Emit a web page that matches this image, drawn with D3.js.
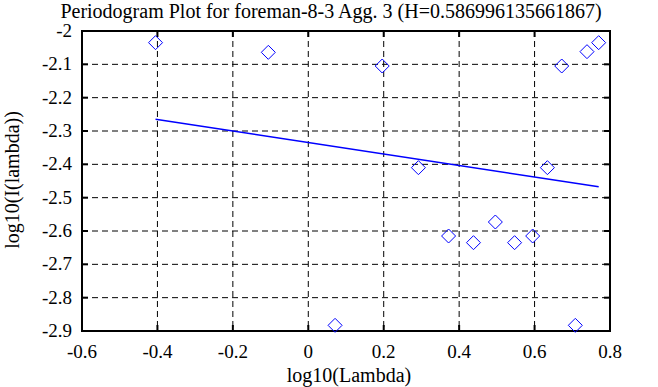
<!DOCTYPE html>
<html lang="en">
<head>
    <meta charset="UTF-8">
    <title>Periodogram Plot</title>
    <script src="https://d3js.org/d3.v7.min.js"></script>
    <style>
        body { margin: 0; background: #fff; }
        text { font-family: "Liberation Serif", "DejaVu Serif", serif; fill: #000; }
    </style>
</head>
<body>
    <svg width="658" height="387"></svg>

    <script>
        // data
        var logLambda = [-0.405, -0.106, 0.071, 0.196, 0.292, 0.372, 0.438, 0.496, 0.547, 0.595, 0.634, 0.672, 0.708, 0.739, 0.770];
        var logI      = [-2.035, -2.064, -2.883, -2.105, -2.41, -2.615, -2.635, -2.573, -2.635, -2.615, -2.41, -2.105, -2.883, -2.062, -2.035];
        var fitX = [-0.405, 0.770];
        var fitY = [-2.265, -2.467];
        var xTicks = [-0.6, -0.4, -0.2, 0, 0.2, 0.4, 0.6, 0.8];
        var yTicks = [-2, -2.1, -2.2, -2.3, -2.4, -2.5, -2.6, -2.7, -2.8, -2.9];

        var svg = d3.select("svg");
        var pL = 82, pR = 610, pT = 31, pB = 331;

        var x = d3.scaleLinear().domain([-0.6, 0.8]).range([pL, pR]);
        var y = d3.scaleLinear().domain([-2, -2.9]).range([pT, pB]);

        // grid
        svg.append("g").selectAll("line").data(xTicks.slice(1, -1)).enter().append("line")
            .attr("x1", d => x(d)).attr("x2", d => x(d))
            .attr("y1", pT).attr("y2", pB)
            .attr("stroke", "#000").attr("stroke-dasharray", "6,4");
        svg.append("g").selectAll("line").data(yTicks.slice(1, -1)).enter().append("line")
            .attr("y1", d => y(d)).attr("y2", d => y(d))
            .attr("x1", pL).attr("x2", pR)
            .attr("stroke", "#000").attr("stroke-dasharray", "6,4");

        // inward ticks on all four sides
        var tk = 6;
        var ticks = svg.append("g").attr("stroke", "#000").attr("stroke-width", 2);
        xTicks.forEach(function (d) {
            ticks.append("line").attr("x1", x(d)).attr("x2", x(d)).attr("y1", pB).attr("y2", pB - tk);
            ticks.append("line").attr("x1", x(d)).attr("x2", x(d)).attr("y1", pT).attr("y2", pT + tk);
        });
        yTicks.forEach(function (d) {
            ticks.append("line").attr("y1", y(d)).attr("y2", y(d)).attr("x1", pL).attr("x2", pL + tk);
            ticks.append("line").attr("y1", y(d)).attr("y2", y(d)).attr("x1", pR).attr("x2", pR - tk);
        });

        // frame
        svg.append("rect").attr("x", pL).attr("y", pT)
            .attr("width", pR - pL).attr("height", pB - pT)
            .attr("fill", "none").attr("stroke", "#000").attr("stroke-width", 2);

        // tick labels
        svg.append("g").selectAll("text").data(xTicks).enter().append("text")
            .attr("x", d => x(d)).attr("y", pB + 27)
            .attr("text-anchor", "middle").attr("font-size", 19)
            .text(d => String(d));
        svg.append("g").selectAll("text").data(yTicks).enter().append("text")
            .attr("x", pL - 10).attr("y", d => y(d) + 6)
            .attr("text-anchor", "end").attr("font-size", 19)
            .text(d => String(d));

        // fit line
        svg.append("path")
            .datum(d3.zip(fitX, fitY))
            .attr("d", d3.line().x(d => x(d[0])).y(d => y(d[1])))
            .attr("stroke", "#0000ff").attr("stroke-width", 1.5).attr("fill", "none");

        // diamonds
        var r = 7;
        svg.append("g").selectAll("path").data(d3.zip(logLambda, logI)).enter().append("path")
            .attr("d", function (d) {
                var cx = x(d[0]), cy = y(d[1]);
                return "M" + cx + "," + (cy - r) + "L" + (cx + r) + "," + cy +
                       "L" + cx + "," + (cy + r) + "L" + (cx - r) + "," + cy + "Z";
            })
            .attr("fill", "none").attr("stroke", "#0000ff").attr("stroke-width", 1);

        // titles
        svg.append("text").attr("x", 331).attr("y", 18).attr("text-anchor", "middle")
            .attr("font-size", 20).text("Periodogram Plot for foreman-8-3 Agg. 3 (H=0.586996135661867)");
        svg.append("text").attr("x", 349).attr("y", 382).attr("text-anchor", "middle")
            .attr("font-size", 20).text("log10(Lambda)");
        svg.append("text").attr("transform", "translate(19,180) rotate(-90)")
            .attr("text-anchor", "middle").attr("font-size", 20).text("log10(I(lambda))");
    </script>
</body>
</html>
